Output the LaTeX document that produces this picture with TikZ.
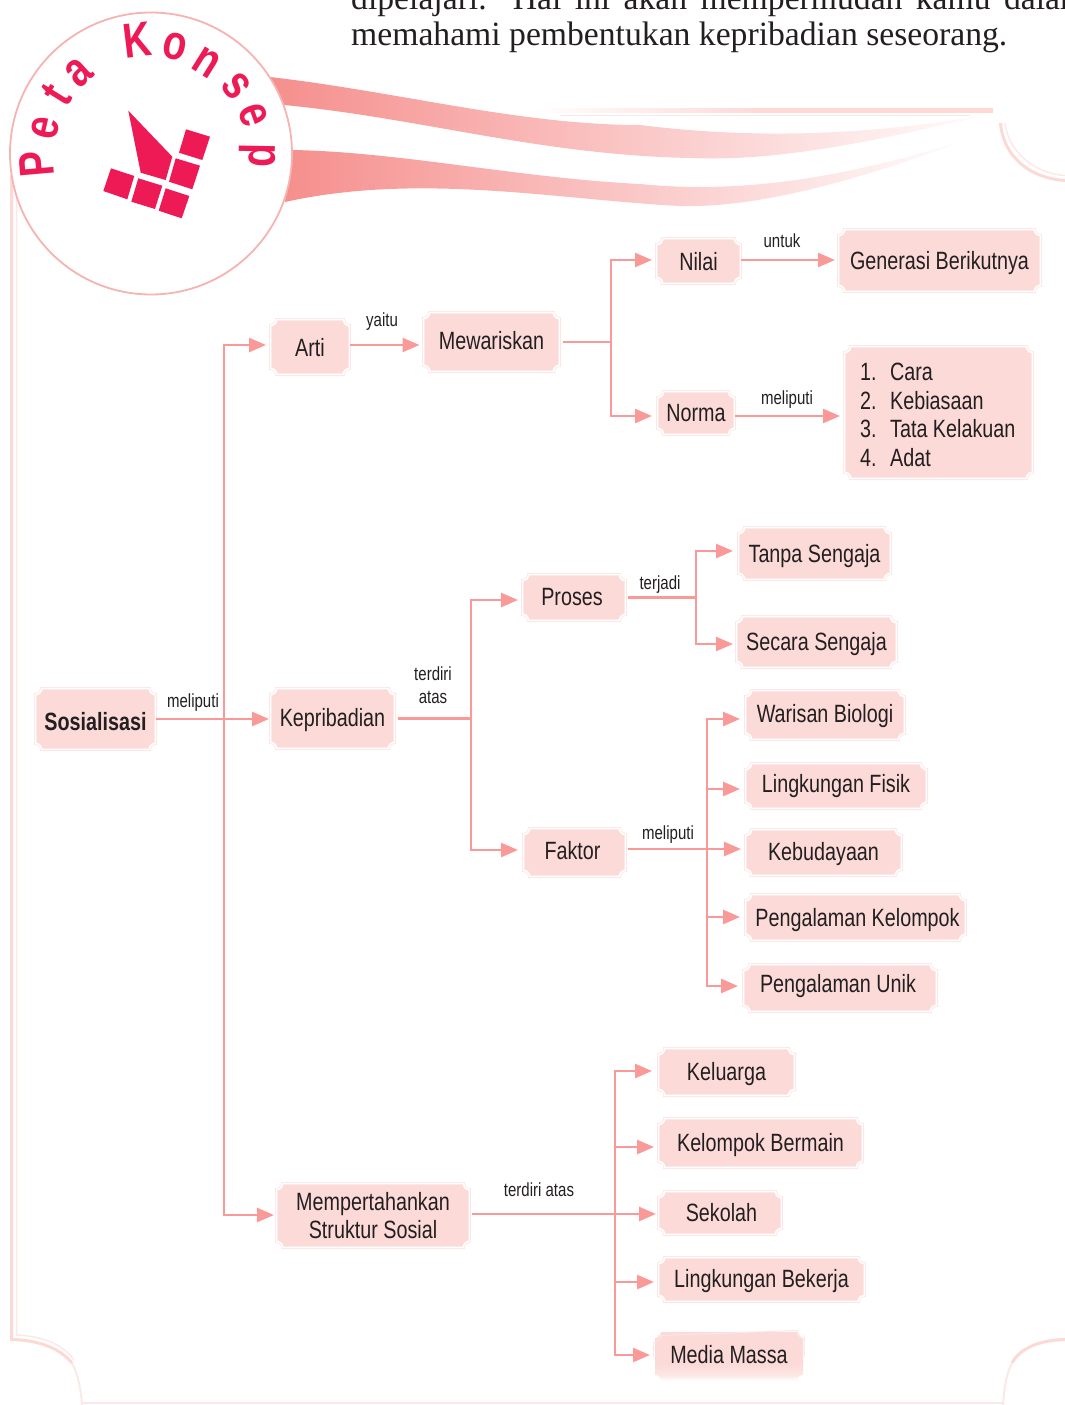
\documentclass[tikz,border=0pt]{standalone}
\usepackage{fontspec}
\setmainfont[FakeStretch=0.79]{Liberation Sans}
\newfontfamily\bodyserif[FakeStretch=0.99]{Liberation Serif}
\usetikzlibrary{arrows.meta}
\definecolor{boxfill}{HTML}{FBDAD8}
\definecolor{boxedge}{HTML}{FCE6E4}
\definecolor{boxsoft}{HTML}{FCE7E5}
\definecolor{linkc}{HTML}{FA9A98}
\definecolor{inkc}{HTML}{231F20}
\definecolor{redc}{HTML}{ED1A55}
\definecolor{ringc}{HTML}{F5B3B1}
\definecolor{framec}{HTML}{FDD9D6}
\definecolor{frametwo}{HTML}{FBE9E8}
\definecolor{ribbona}{HTML}{F58F8D}
\definecolor{ribbonb}{HTML}{FDDEDC}
\makeatletter
\newdimen\nbxa \newdimen\nbya \newdimen\nbxb \newdimen\nbyb
\pgfdeclareshape{notchbox}{
  \inheritsavedanchors[from=rectangle]
  \inheritanchorborder[from=rectangle]
  \inheritanchor[from=rectangle]{center}
  \inheritanchor[from=rectangle]{north}
  \inheritanchor[from=rectangle]{south}
  \inheritanchor[from=rectangle]{east}
  \inheritanchor[from=rectangle]{west}
  \inheritanchor[from=rectangle]{north east}
  \inheritanchor[from=rectangle]{north west}
  \inheritanchor[from=rectangle]{south east}
  \inheritanchor[from=rectangle]{south west}
  \inheritanchor[from=rectangle]{base}
  \backgroundpath{
    \southwest \nbxa=\pgf@x \nbya=\pgf@y
    \northeast \nbxb=\pgf@x \nbyb=\pgf@y
    \pgfpathmoveto{\pgfqpoint{\nbxa}{\dimexpr\nbya+6pt}}
    \pgfpathlineto{\pgfqpoint{\nbxa}{\dimexpr\nbyb-6pt}}
    \pgfpathcurveto{\pgfqpoint{\dimexpr\nbxa+3.3pt}{\dimexpr\nbyb-6pt}}{\pgfqpoint{\dimexpr\nbxa+6pt}{\dimexpr\nbyb-3.3pt}}{\pgfqpoint{\dimexpr\nbxa+6pt}{\nbyb}}
    \pgfpathlineto{\pgfqpoint{\dimexpr\nbxb-6pt}{\nbyb}}
    \pgfpathcurveto{\pgfqpoint{\dimexpr\nbxb-6pt}{\dimexpr\nbyb-3.3pt}}{\pgfqpoint{\dimexpr\nbxb-3.3pt}{\dimexpr\nbyb-6pt}}{\pgfqpoint{\nbxb}{\dimexpr\nbyb-6pt}}
    \pgfpathlineto{\pgfqpoint{\nbxb}{\dimexpr\nbya+6pt}}
    \pgfpathcurveto{\pgfqpoint{\dimexpr\nbxb-3.3pt}{\dimexpr\nbya+6pt}}{\pgfqpoint{\dimexpr\nbxb-6pt}{\dimexpr\nbya+3.3pt}}{\pgfqpoint{\dimexpr\nbxb-6pt}{\nbya}}
    \pgfpathlineto{\pgfqpoint{\dimexpr\nbxa+6pt}{\nbya}}
    \pgfpathcurveto{\pgfqpoint{\dimexpr\nbxa+6pt}{\dimexpr\nbya+3.3pt}}{\pgfqpoint{\dimexpr\nbxa+3.3pt}{\dimexpr\nbya+6pt}}{\pgfqpoint{\nbxa}{\dimexpr\nbya+6pt}}
    \pgfpathclose
  }
}
\makeatother
\pgfdeclareverticalshading{fadebox}{100bp}{color(0bp)=(white); color(25bp)=(white); color(31bp)=(boxsoft); color(43bp)=(boxfill); color(100bp)=(boxfill)}
\tikzset{
  plainbox/.style={shape=notchbox,inner sep=0pt,outer sep=0pt,text=inkc,align=center,
    font=\fontsize{25}{28}\selectfont,text height=16.5pt,text depth=0pt},
  nb/.style={plainbox,fill=boxfill,draw=boxedge,line width=0.8pt,double=white,double distance=1.4pt},
  multi/.style={text height={},text depth={}},
  lbl/.style={inner sep=0pt,outer sep=0pt,text=inkc,font=\fontsize{19}{23}\selectfont,align=center},
  conn/.style={draw=linkc,line width=2.6pt},
  arr/.style={conn,-{Triangle[length=17pt,width=14pt]}},
  peta/.style={inner sep=0pt,outer sep=0pt,text=redc,font=\fontsize{49}{49}\selectfont\bfseries},
  seal/.style={fill=redc,draw=none},
  frameline/.style={draw=framec,line width=3pt},
  frameback/.style={draw=frametwo,line width=1.5pt},
}
\newcommand{\cn}[4]{\draw[arr] (#1) |- ([xshift=#3pt,yshift=#4pt]#2.west);}
\begin{document}
\begin{tikzpicture}[x=1pt,y=-1pt]
\useasboundingbox (0,0) rectangle (1065,1405);
\begin{scope}
\clip (0,0) rectangle (1065,1405);
% frame
\draw[frameline] (11.5,175) -- (11.5,1339.5) .. controls (38,1340) and (60,1348) .. (72,1363);
\draw[frameback] (16.5,175) -- (16.5,1335) .. controls (40,1336) and (62,1343) .. (74,1360);
\draw[frameback,line width=2pt] (72,1363) .. controls (78,1374) and (81,1390) .. (82,1405);
\draw[frameback,line width=2pt] (82,1403) -- (1003,1403);
\draw[frameline] (1065,1339.5) .. controls (1040,1340) and (1020,1348) .. (1012,1363);
\draw[frameback,line width=2pt] (1012,1363) .. controls (1006,1374) and (1004,1390) .. (1003,1405);
\draw[frameline] (1000.5,123) .. controls (1003,155) and (1028,178) .. (1065,180.5);
\draw[frameback] (1005,123) .. controls (1008,150) and (1032,173) .. (1065,175.5);
% ribbons
\shade[left color=ribbona,middle color=ribbonb,right color=white]
  (270,77) .. controls (400,92) and (520,125) .. (640,125)
  .. controls (760,140) and (880,135) .. (1000,112)
  .. controls (880,140) and (780,162) .. (690,158)
  .. controls (540,155) and (420,118) .. (284,105) -- cycle;
\shade[left color=ribbona,middle color=ribbonb,right color=white]
  (293,150) .. controls (400,152) and (520,178) .. (640,184)
  .. controls (760,196) and (870,170) .. (975,137)
  .. controls (860,180) and (760,208) .. (680,206)
  .. controls (560,200) and (420,172) .. (285,202) -- cycle;
\shade[left color=white,right color=framec,middle color=framec] (530,108.3) rectangle (993,112.7);
\fill[frametwo] (560,115) rectangle (970,116);
% seal
\draw[fill=white,draw=ringc,line width=1.8pt] (151,153.5) circle (141);
\fill[seal] (128.3,110.7) -- (172.3,156.7) -- (165.7,180) -- (140.7,172.7) -- cycle;
\fill[seal] (186,129.3) -- (210,136.7) -- (202.3,160) -- (179,152.7) -- cycle;
\fill[seal] (175.7,158.3) -- (200,165.7) -- (192.3,189.3) -- (169,181.7) -- cycle;
\fill[seal] (165.7,188.3) -- (189.3,196) -- (181.7,218.3) -- (158.7,210.7) -- cycle;
\fill[seal] (138.3,178.3) -- (162.3,185.7) -- (155,209) -- (131.3,201.7) -- cycle;
\fill[seal] (111,168.3) -- (134.3,176) -- (127.3,199.3) -- (103.3,191) -- cycle;
\node[peta,rotate=95] (p1) at (37,164) {P};
\node[peta,rotate=77] (p2) at (45,128) {e};
\node[peta,rotate=58] (p3) at (57,95) {t};
\node[peta,rotate=42] (p4) at (79,73) {a};
\node[peta,rotate=7] (p5) at (137,40) {K};
\node[peta,rotate=-13] (p6) at (175,47) {o};
\node[peta,rotate=-32] (p7) at (207,63) {n};
\node[peta,rotate=-52] (p8) at (236,86) {s};
\node[peta,rotate=-70] (p9) at (253,115) {e};
\node[peta,rotate=-91] (p10) at (257,155) {p};
% heading text
\node[anchor=base west,inner sep=0pt,text=inkc,font=\bodyserif\fontsize{34}{36}\selectfont] (h1) at (351,9.5) {\makebox[735pt][s]{dipelajari. Hal ini akan mempermudah kamu dalam}};
\node[anchor=base west,inner sep=0pt,text=inkc,font=\bodyserif\fontsize{34}{36}\selectfont] (h2) at (351,46) {memahami pembentukan kepribadian seseorang.};
\end{scope}
% nodes
\node[nb,minimum width=120pt,minimum height=61pt,text height=22.5pt,font=\fontsize{25}{28}\selectfont\bfseries] (sos) at (95.5,719) {Sosialisasi};
\node[nb,minimum width=79pt,minimum height=55pt,text height=18.5pt] (arti) at (310,347) {Arti};
\node[nb,minimum width=136pt,minimum height=59pt,text height=14.5pt] (mew) at (491.5,342) {Mewariskan};
\node[nb,minimum width=84pt,minimum height=45pt,text height=18.5pt] (nilai) at (698.5,261) {Nilai};
\node[nb,minimum width=202pt,minimum height=62pt,text height=18.5pt] (gen) at (939.5,260.5) {Generasi Berikutnya};
\node[nb,minimum width=77pt,minimum height=43pt] (norma) at (696,413) {Norma};
\node[nb,multi,minimum width=188pt,minimum height=132pt,align=left,font=\fontsize{25}{28.7}\selectfont] (list) at (938.5,412.5)
  {\rule{0pt}{22pt}\hspace*{-1.5pt}\makebox[30pt][l]{1.}Cara\\\hspace*{-1.5pt}\makebox[30pt][l]{2.}Kebiasaan\\\hspace*{-1.5pt}\makebox[30pt][l]{3.}Tata Kelakuan\\\hspace*{-1.5pt}\makebox[30pt][l]{4.}Adat};
\node[nb,minimum width=103pt,minimum height=46pt] (proses) at (574,597.5) {\hspace*{-4pt}Proses};
\node[nb,minimum width=152pt,minimum height=52pt,text height=18.5pt] (tanpa) at (814.5,553.5) {Tanpa Sengaja};
\node[nb,minimum width=160pt,minimum height=51pt] (secara) at (816.5,642) {Secara Sengaja};
\node[nb,minimum width=124pt,minimum height=60pt] (kep) at (332.5,718.5) {Kepribadian};
\node[nb,minimum width=102pt,minimum height=48pt,text height=14.5pt] (faktor) at (574.5,852.5) {\hspace*{-4pt}Faktor};
\node[nb,minimum width=159pt,minimum height=49pt,text height=14.5pt] (war) at (825,715) {Warisan Biologi};
\node[nb,minimum width=181pt,minimum height=45pt,text height=12.5pt] (fis) at (836,786) {Lingkungan Fisik};
\node[nb,minimum width=156pt,minimum height=46pt] (keb) at (823.5,852.5) {Kebudayaan};
\node[nb,minimum width=220pt,minimum height=46pt,text height=18.5pt] (pk) at (855.5,917.5) {\hspace*{4pt}Pengalaman Kelompok};
\node[nb,minimum width=193pt,minimum height=47pt,text height=8.5pt] (pu) at (840,988) {\hspace*{-4pt}Pengalaman Unik};
\node[nb,minimum width=136pt,minimum height=47pt] (kel) at (726.5,1072) {Keluarga};
\node[nb,minimum width=204pt,minimum height=49pt] (kb) at (760.5,1143) {Kelompok Bermain};
\node[nb,minimum width=123pt,minimum height=43pt] (sek) at (720,1213) {\hspace*{3pt}Sekolah};
\node[nb,minimum width=206pt,minimum height=44pt] (lb) at (761.5,1279.5) {Lingkungan Bekerja};
\node[plainbox,shading=fadebox,minimum width=148pt,minimum height=49pt,text height=14pt] (mm) at (729,1356.5) {Media Massa};
\node[nb,multi,minimum width=193pt,minimum height=64pt] (mpt) at (373,1215.5) {Mempertahankan\\Struktur Sosial};
\draw[draw=boxedge,line width=1pt] ([xshift=-1.5pt]mm.west) -- ++(0,-14) .. controls +(4,0) and +(6,-3) .. ++(6,-7) -- ([xshift=-6pt,yshift=1.5pt]mm.north east) .. controls +(0,4) and +(3,7) .. ++(7,7) -- ([xshift=1.5pt]mm.east);
% labels
\node[lbl] (l1) at (193,703) {meliputi};
\node[lbl] (l2) at (382,322) {yaitu};
\node[lbl] (l3) at (782,241) {untuk};
\node[lbl] (l4) at (787,400) {meliputi};
\node[lbl] (l5) at (433,685) {terdiri\\[0pt]atas};
\node[lbl] (l6) at (660,585) {terjadi};
\node[lbl] (l7) at (668,835) {meliputi};
\node[lbl] (l8) at (539,1190) {terdiri atas};
% junctions
\coordinate (j1) at (224,719);
\coordinate (j2) at (611,342);
\coordinate (j3) at (471,718.5);
\coordinate (j4) at (696,597.5);
\coordinate (j5) at (707,849);
\coordinate (j6) at (615,1214);
% connectors
\draw[arr,shorten >=1.5pt] (sos.east) -- ([yshift=-0.5pt]kep.west);
\cn{j1}{arti}{-4.5}{2}
\cn{j1}{mpt}{-2.5}{0.5}
\draw[arr] ([yshift=2pt]arti.east) -- ([xshift=-4pt,yshift=-3pt]mew.west);
\draw[conn,shorten <=3pt] (mew.east) -- (j2);
\cn{j2}{nilai}{-4.5}{1}
\cn{j2}{norma}{-5.5}{-3}
\draw[arr] ([yshift=1pt]nilai.east) -- ([xshift=-3.5pt,yshift=0.5pt]gen.west);
\draw[arr] ([yshift=-3pt]norma.east) -- ([xshift=-4.5pt,yshift=-3.5pt]list.west);
\draw[conn,shorten <=3pt] (kep.east) -- (j3);
\cn{j3}{proses}{-4.5}{-2.5}
\cn{j3}{faktor}{-5.5}{2.5}
\draw[conn,shorten <=2pt] (proses.east) -- (j4);
\cn{j4}{tanpa}{-5.5}{2.5}
\cn{j4}{secara}{-3.5}{-2}
\draw[arr,shorten <=2pt] ([yshift=3.5pt]faktor.east) -- ([xshift=-4.5pt,yshift=3.5pt]keb.west);
\cn{j5}{war}{-5.5}{-4}
\cn{j5}{fis}{-5.5}{-3}
\cn{j5}{pk}{-5.5}{0.5}
\cn{j5}{pu}{-5.5}{2}
\draw[arr,shorten <=2pt] ([yshift=1.5pt]mpt.east) -- ([xshift=-2.5pt,yshift=-1pt]sek.west);
\cn{j6}{kel}{-6.5}{1}
\cn{j6}{kb}{-4.5}{-4}
\cn{j6}{lb}{-4.5}{-2.5}
\cn{j6}{mm}{-5}{1.5}
\end{tikzpicture}
\end{document}
